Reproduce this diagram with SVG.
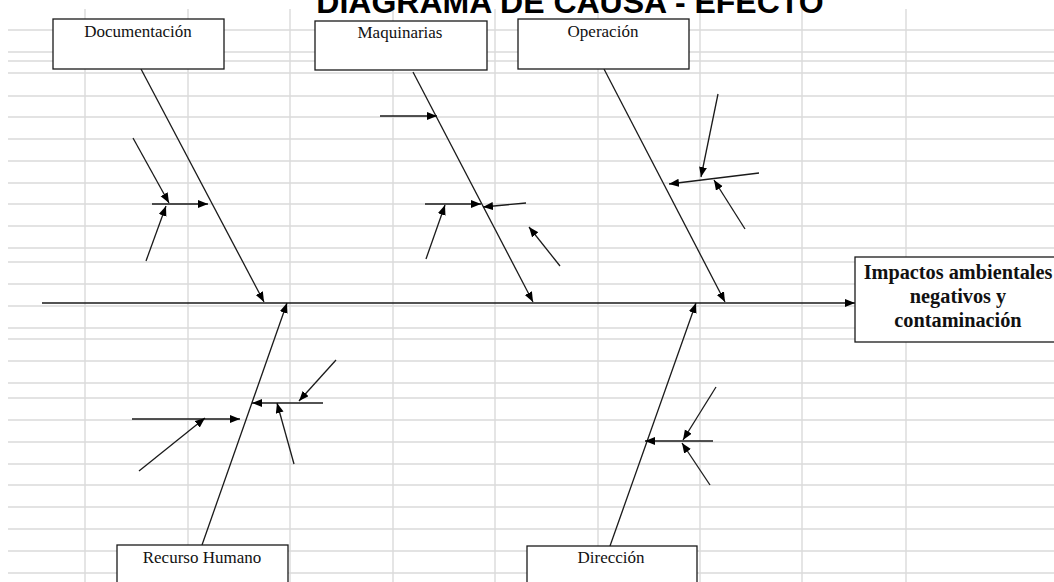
<svg xmlns="http://www.w3.org/2000/svg" width="1054" height="582" viewBox="0 0 1054 582">
<style>
.grid line{stroke:#dadada;stroke-width:1.4}
.box{fill:#fff;stroke:#1a1a1a;stroke-width:1.3}
.lbl{font-family:"Liberation Serif","Times New Roman",serif;font-size:17px;fill:#111;text-anchor:middle}
.eff{font-family:"Liberation Serif","Times New Roman",serif;font-size:20.3px;font-weight:bold;fill:#111;text-anchor:middle}
.title{font-family:"Liberation Sans",Arial,sans-serif;font-size:32px;font-weight:bold;fill:#000;text-anchor:middle}
.con line{stroke:#1a1a1a;stroke-width:1.3;marker-end:url(#ah)}
</style>
<defs>
<marker id="ah" markerUnits="userSpaceOnUse" markerWidth="11" markerHeight="9" refX="10" refY="4" orient="auto">
<path d="M0,0 L10,4 L0,8 z" fill="#000"/>
</marker>
</defs>
<rect width="1054" height="582" fill="#fff"/>
<g class="grid">
<line x1="85" y1="9" x2="85" y2="582"/>
<line x1="188" y1="9" x2="188" y2="582"/>
<line x1="290" y1="9" x2="290" y2="582"/>
<line x1="393" y1="9" x2="393" y2="582"/>
<line x1="495" y1="9" x2="495" y2="582"/>
<line x1="598" y1="9" x2="598" y2="582"/>
<line x1="700" y1="9" x2="700" y2="582"/>
<line x1="802" y1="9" x2="802" y2="582"/>
<line x1="906" y1="9" x2="906" y2="582"/>
<line x1="8" y1="30" x2="1054" y2="30"/>
<line x1="8" y1="52" x2="1054" y2="52"/>
<line x1="8" y1="61" x2="1054" y2="61"/>
<line x1="8" y1="73" x2="1054" y2="73"/>
<line x1="8" y1="96" x2="1054" y2="96"/>
<line x1="8" y1="117" x2="1054" y2="117"/>
<line x1="8" y1="139" x2="1054" y2="139"/>
<line x1="8" y1="161" x2="1054" y2="161"/>
<line x1="8" y1="183" x2="1054" y2="183"/>
<line x1="8" y1="204" x2="1054" y2="204"/>
<line x1="8" y1="226" x2="1054" y2="226"/>
<line x1="8" y1="248" x2="1054" y2="248"/>
<line x1="8" y1="262" x2="1054" y2="262"/>
<line x1="8" y1="284" x2="1054" y2="284"/>
<line x1="8" y1="306" x2="1054" y2="306"/>
<line x1="8" y1="328" x2="1054" y2="328"/>
<line x1="8" y1="339" x2="1054" y2="339"/>
<line x1="8" y1="361" x2="1054" y2="361"/>
<line x1="8" y1="383" x2="1054" y2="383"/>
<line x1="8" y1="398" x2="1054" y2="398"/>
<line x1="8" y1="420" x2="1054" y2="420"/>
<line x1="8" y1="442" x2="1054" y2="442"/>
<line x1="8" y1="464" x2="1054" y2="464"/>
<line x1="8" y1="485" x2="1054" y2="485"/>
<line x1="8" y1="507" x2="1054" y2="507"/>
<line x1="8" y1="529" x2="1054" y2="529"/>
<line x1="8" y1="551" x2="1054" y2="551"/>
<line x1="8" y1="573" x2="1054" y2="573"/>
</g>
<text class="title" x="570" y="13">DIAGRAMA DE CAUSA - EFECTO</text>
<g class="con">
<line x1="42" y1="303" x2="855" y2="303"/>
<line x1="141" y1="69" x2="264" y2="302"/>
<line x1="413" y1="72" x2="533" y2="302"/>
<line x1="604" y1="69" x2="725" y2="302"/>
<line x1="202" y1="545" x2="287" y2="303"/>
<line x1="610" y1="546" x2="696" y2="303"/>
<line x1="152" y1="204" x2="208" y2="204"/>
<line x1="133" y1="138" x2="169" y2="203"/>
<line x1="146" y1="261" x2="166" y2="206"/>
<line x1="380" y1="116" x2="437" y2="116"/>
<line x1="425" y1="204" x2="481" y2="204"/>
<line x1="426" y1="259" x2="445" y2="205"/>
<line x1="526" y1="203" x2="483" y2="207"/>
<line x1="560" y1="266" x2="529" y2="227"/>
<line x1="759" y1="173" x2="669" y2="184"/>
<line x1="718" y1="94" x2="701" y2="177"/>
<line x1="745" y1="229" x2="714" y2="180"/>
<line x1="132" y1="419" x2="240" y2="419"/>
<line x1="139" y1="471" x2="205" y2="418"/>
<line x1="323" y1="403" x2="252" y2="403"/>
<line x1="336" y1="360" x2="299" y2="401"/>
<line x1="294" y1="464" x2="277" y2="403"/>
<line x1="713" y1="441" x2="645" y2="441"/>
<line x1="716" y1="387" x2="683" y2="440"/>
<line x1="710" y1="485" x2="682" y2="443"/>
</g>
<g id="documentacion">
<rect class="box" x="53" y="19" width="171" height="50"/>
<text class="lbl" x="138" y="37">Documentación</text>
</g>
<g id="maquinarias">
<rect class="box" x="315" y="21" width="172" height="49"/>
<text class="lbl" x="400" y="38">Maquinarias</text>
</g>
<g id="operacion">
<rect class="box" x="518" y="19" width="171" height="50"/>
<text class="lbl" x="603" y="37">Operación</text>
</g>
<g id="efecto">
<rect class="box" x="855" y="257" width="210" height="85"/>
<text class="eff" x="958" y="279">Impactos ambientales</text>
<text class="eff" x="958" y="303">negativos y</text>
<text class="eff" x="958" y="327">contaminación</text>
</g>
<g id="recurso-humano">
<rect class="box" x="117" y="545" width="171" height="50"/>
<text class="lbl" x="202" y="563">Recurso Humano</text>
</g>
<g id="direccion">
<rect class="box" x="527" y="546" width="170" height="50"/>
<text class="lbl" x="611" y="563">Dirección</text>
</g>
</svg>
